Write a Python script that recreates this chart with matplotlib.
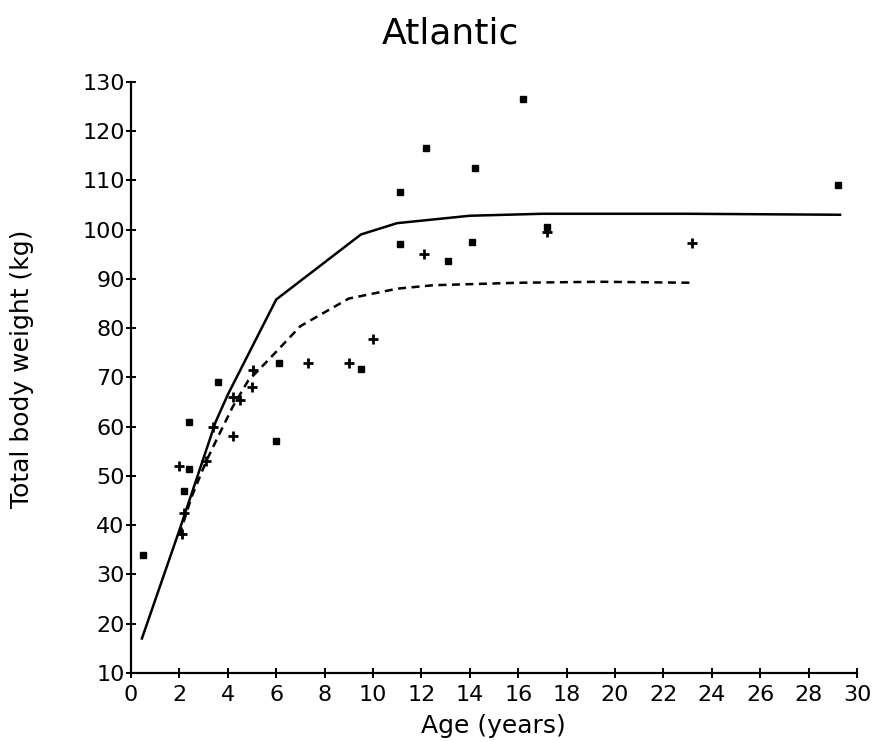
import matplotlib
matplotlib.use("Agg")
import matplotlib.pyplot as plt

# Observed body weights (kg) by age (years)
sq_age = [0.5, 2.2, 2.4, 2.4, 3.6, 6.0, 6.1, 9.5, 11.1, 11.1, 12.2, 13.1,
          14.1, 14.2, 16.2, 17.2, 29.2]
sq_wt = [34, 47, 51.4, 61, 69, 57, 73, 71.7, 107.7, 97, 116.5, 93.6,
         97.5, 112.5, 126.5, 100.5, 109]

cr_age = [2.0, 2.1, 2.2, 3.1, 3.4, 4.2, 4.2, 4.5, 5.0, 5.05, 7.3, 9.0,
          10.0, 12.1, 17.2, 23.2]
cr_wt = [52, 38.3, 42.4, 53, 60, 58, 66, 65.5, 68, 71.5, 73, 73,
         77.7, 95, 99.4, 97.2]

# Fitted growth curves
fit_solid_age = [0.45, 2.0, 3.5, 4.0, 6.0, 9.5, 11.0, 14.0, 17.0, 23.0, 29.3]
fit_solid_wt = [17, 39, 61, 66.5, 85.8, 99, 101.3, 102.8, 103.2, 103.2, 103]

fit_dash_age = [2.0, 2.5, 3.1, 3.6, 4.2, 4.85, 5.2, 6.0, 7.0, 9.0, 11.0,
                12.5, 16.0, 19.4, 23.2]
fit_dash_wt = [38, 45.7, 52.9, 58, 64, 69.4, 71.1, 75.2, 80.4, 86, 88,
               88.7, 89.2, 89.4, 89.2]

x_ticks = list(range(0, 31, 2))
y_ticks = list(range(10, 131, 10))

plt.rcParams["font.family"] = ["DejaVu Sans"]

fig = plt.figure(figsize=(8.77, 7.41), dpi=100)
ax = fig.add_axes([0.1494, 0.0918, 0.8278, 0.7979])

ax.plot(fit_solid_age, fit_solid_wt, color="black", lw=1.8, solid_joinstyle="miter")
ax.plot(fit_dash_age, fit_dash_wt, color="black", lw=1.8, linestyle=(0, (3.2, 2.2)))

ax.plot(sq_age, sq_wt, linestyle="none", marker="s", markersize=4.5,
        color="black")
ax.plot(cr_age, cr_wt, linestyle="none", marker="+", markersize=7.5,
        markeredgewidth=2.0, color="black")

ax.set_xlim(0, 30)
ax.set_ylim(10, 130)
ax.set_xticks(x_ticks)
ax.set_yticks(y_ticks)
for side in ("top", "right"):
    ax.spines[side].set_visible(False)
for side in ("left", "bottom"):
    ax.spines[side].set_linewidth(1.6)
ax.tick_params(axis="both", direction="inout", length=7, width=1.4,
               labelsize=16, colors="black")
ax.tick_params(axis="x", pad=5)
ax.tick_params(axis="y", pad=1)

ax.set_xlabel("Age (years)", fontsize=18, va="center")
ax.xaxis.set_label_coords(0.4986, -0.0897)
ax.set_ylabel("Total body weight (kg)", fontsize=18, va="center")
ax.yaxis.set_label_coords(-0.150, 0.514)

fig.text(450 / 877, 1 - 43 / 741, "Atlantic", fontsize=26, ha="center",
         va="baseline")

fig.savefig("out.png", dpi=100, facecolor="white")
